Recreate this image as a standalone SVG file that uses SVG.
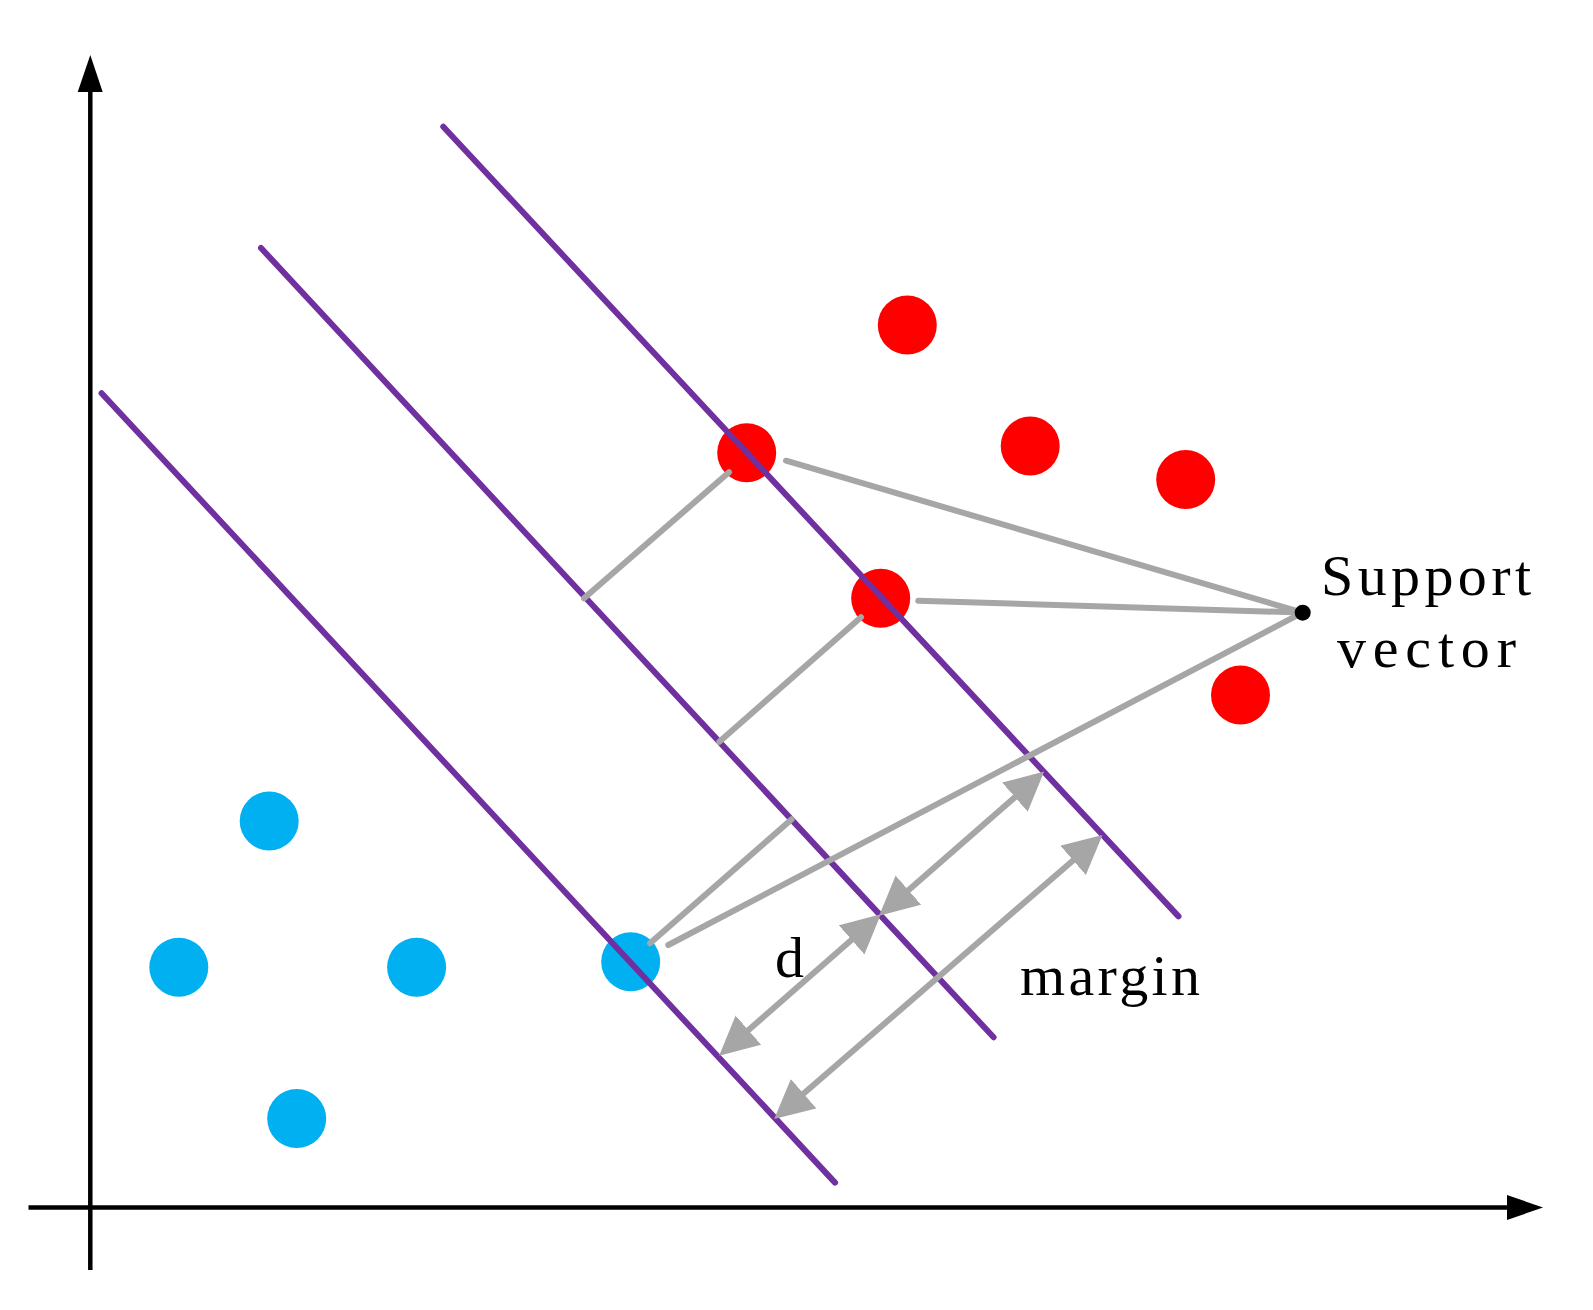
<svg xmlns="http://www.w3.org/2000/svg" width="1593" height="1310" viewBox="0 0 1593 1310">
<style>
.red{fill:#FF0000}
.blue{fill:#00B0F0}
.hyper{stroke:#7030A0;stroke-width:6;fill:none;stroke-linecap:round}
.gray{stroke:#A6A6A6;stroke-width:6;fill:none;stroke-linecap:round}
.garrow{stroke:#A6A6A6;stroke-width:6;fill:none;marker-start:url(#ah);marker-end:url(#ah)}
.axis{stroke:#000;stroke-width:4.5;fill:none}
.lbl{font-family:"Liberation Serif","Times New Roman",serif;font-size:58px;fill:#000}
</style>
<defs>
<marker id="ah" markerUnits="userSpaceOnUse" markerWidth="40" markerHeight="40" viewBox="0 0 36 36" refX="25" refY="17.5" orient="auto-start-reverse">
<path d="M0,0 L35,17.5 L0,35 z" fill="#A6A6A6"/>
</marker>
</defs>
<rect width="1593" height="1310" fill="#fff"/>
<g id="axes">
<line class="axis" x1="90.3" y1="90" x2="90.3" y2="1270"/>
<polygon points="90.3,55 77.7,92 102.7,92" fill="#000"/>
<line class="axis" x1="28.5" y1="1207.5" x2="1510" y2="1207.5"/>
<polygon points="1543,1207.5 1507,1195 1507,1220" fill="#000"/>
</g>
<g id="red-points">
<circle id="r1" class="red" cx="907.3" cy="325.1" r="29.5"/>
<circle id="r2" class="red" cx="1030.2" cy="446" r="29.5"/>
<circle id="r3" class="red" cx="1185.7" cy="479.6" r="29.5"/>
<circle id="r4" class="red" cx="746.7" cy="452.7" r="29.5"/>
<circle id="r5" class="red" cx="880.7" cy="598.3" r="29.5"/>
<circle id="r6" class="red" cx="1240.5" cy="695" r="29.5"/>
</g>
<g id="blue-points">
<circle id="b1" class="blue" cx="269.2" cy="821" r="29.5"/>
<circle id="b2" class="blue" cx="178.8" cy="967.2" r="29.5"/>
<circle id="b3" class="blue" cx="416.6" cy="967.2" r="29.5"/>
<circle id="b4" class="blue" cx="630.7" cy="961.7" r="29.5"/>
<circle id="b5" class="blue" cx="296.7" cy="1118.6" r="29.5"/>
</g>
<g id="hyperplanes">
<line class="hyper" x1="101.6" y1="393.2" x2="835" y2="1182.6"/>
<line class="hyper" x1="261" y1="248" x2="993.6" y2="1037.3"/>
<line class="hyper" x1="443.3" y1="126.7" x2="1178.5" y2="916.4"/>
</g>
<g id="connectors">
<line class="gray" x1="786" y1="460.7" x2="1302.5" y2="612.6"/>
<line class="gray" x1="918.3" y1="600.7" x2="1302.5" y2="612.6"/>
<line class="gray" x1="668.3" y1="945" x2="1302.5" y2="612.6"/>
<line class="gray" x1="729" y1="472.3" x2="584" y2="598.3"/>
<line class="gray" x1="861" y1="617.3" x2="719.3" y2="741.7"/>
<line class="gray" x1="650" y1="943.3" x2="791.7" y2="819.3"/>
<line class="garrow" x1="727.5" y1="1048.4" x2="872.5" y2="921.6"/>
<line class="garrow" x1="887.5" y1="908.4" x2="1035.8" y2="778.9"/>
<line class="garrow" x1="782.6" y1="1111.8" x2="1094.1" y2="842.2"/>
</g>
<g id="support-vector-label">
<circle cx="1302.7" cy="612.7" r="8" fill="#000"/>
<text class="lbl" x="1321" y="595" textLength="210">Support</text>
<text class="lbl" x="1337" y="667" textLength="179">vector</text>
</g>
<g id="d-label">
<text class="lbl" x="775" y="977">d</text>
</g>
<g id="margin-label">
<text class="lbl" x="1020" y="995" textLength="180">margin</text>
</g>
</svg>
